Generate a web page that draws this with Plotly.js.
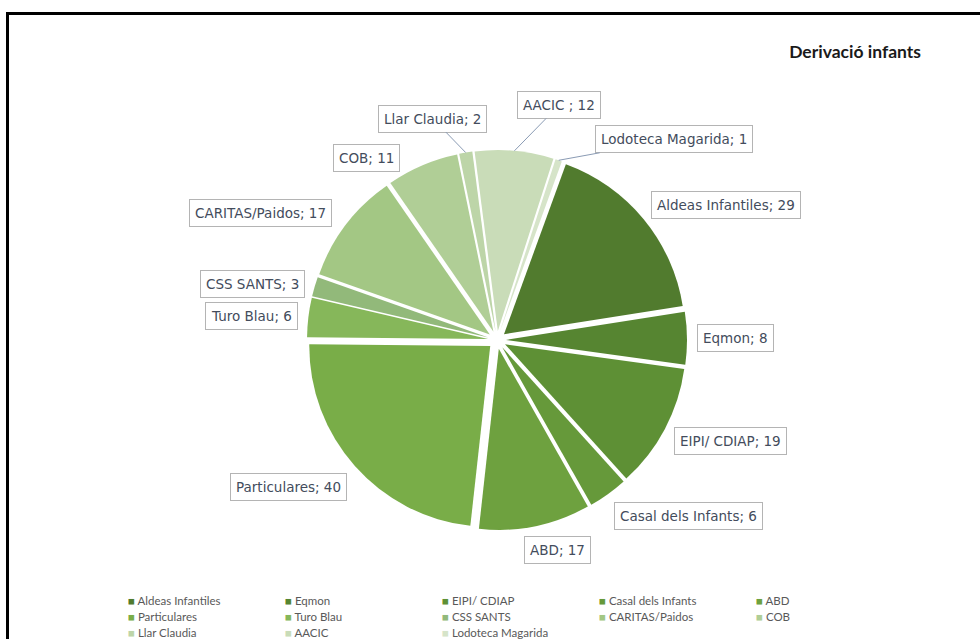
<!DOCTYPE html>
<html>
<head>
<meta charset="utf-8">
<script src="https://cdn.plot.ly/plotly-3.0.1.min.js"></script>
<style>
  html, body { margin: 0; padding: 0; background: #fff; }
  #chart { width: 980px; height: 639px; }
</style>
</head>
<body>
<div id="chart"></div>
<script>
// Derivació infants - number of children by referral source
const labels = ["Aldeas Infantiles", "Eqmon", "EIPI/ CDIAP", "Casal dels Infants", "ABD",
    "Particulares", "Turo Blau", "CSS SANTS", "CARITAS/Paidos", "COB",
    "Llar Claudia", "AACIC ", "Lodoteca Magarida"];
const counts = [29, 8, 19, 6, 17, 40, 6, 3, 17, 11, 2, 12, 1];
const sliceColors = ["#517b2e", "#568531", "#5e9035", "#66993a", "#6ea13f", "#79ad48",
    "#86b75a", "#92b97a", "#a3c784", "#b0ce96", "#bdd5a8", "#c9dcb8", "#d6e4c9"];

// page geometry (px)
const W = 980, H = 639;
const cx = 497, cy = 340, outerR = 190;
const pull = 0.05;
const startAngle = 20;

const px = x => x / W;
const py = y => 1 - y / H;

// labels that sit away from their slice with a leader line: [dx, dy] of the box
const leaderOffsets = {
    "Llar Claudia": [-33, -34],
    "AACIC ": [45, -46],
    "Lodoteca Magarida": [115, -21]
};
// small nudges for boxes Excel moved a bit
const nudges = { "COB": [-18, 16], "CARITAS/Paidos": [-6, 8], "ABD": [20, 0],
    "Aldeas Infantiles": [0, 6], "EIPI/ CDIAP": [0, -7] };

const total = counts.reduce((a, b) => a + b, 0);
let cum = 0;
const annotations = labels.map((lab, i) => {
    const mid = startAngle + (cum + counts[i] / 2) / total * 360;
    cum += counts[i];
    const rad = mid * Math.PI / 180;
    const s = Math.sin(rad), c = Math.cos(rad);
    const base = {
        xref: "paper", yref: "paper",
        text: `${lab}; ${counts[i]}`,
        font: { family: "DejaVu Sans", size: 13.5, color: "#434c5c" },
        bgcolor: "#ffffff",
        bordercolor: "#b4b4b4",
        borderwidth: 1,
        borderpad: 5
    };
    if (leaderOffsets[lab]) {
        const [dx, dy] = leaderOffsets[lab];
        return Object.assign(base, {
            x: px(cx + outerR * s), y: py(cy - outerR * c),
            showarrow: true, arrowhead: 0, arrowwidth: 1, arrowcolor: "#8a9bb4",
            standoff: 0, ax: dx, ay: dy
        });
    }
    const rho = 200;
    const [nx, ny] = nudges[lab] || [0, 0];
    return Object.assign(base, {
        x: px(cx + rho * s + nx), y: py(cy - rho * c + ny),
        xanchor: s > 0.3 ? "left" : (s < -0.3 ? "right" : "center"),
        yanchor: c > 0.3 ? "bottom" : (c < -0.3 ? "top" : "middle"),
        showarrow: false
    });
});

// legend in the Excel layout: 5 columns, rows filled left to right
const legendCols = 5, legendX0 = 127, legendDX = 157, legendY0 = 600, legendDY = 16;
labels.forEach((lab, i) => {
    const col = i % legendCols, row = Math.floor(i / legendCols);
    annotations.push({
        xref: "paper", yref: "paper",
        x: px(legendX0 + col * legendDX), y: py(legendY0 + row * legendDY),
        xanchor: "left", yanchor: "middle",
        showarrow: false,
        borderpad: 0,
        text: `<span style="color:${sliceColors[i]}">■</span> ${lab}`,
        font: { family: "Lato", size: 11.5, color: "#595959" }
    });
});

const trace = {
    type: "pie",
    labels: labels,
    values: counts,
    sort: false,
    direction: "clockwise",
    rotation: startAngle,
    pull: pull,
    marker: { colors: sliceColors, line: { color: "#ffffff", width: 0 } },
    textinfo: "none",
    hoverinfo: "label+value",
    domain: {
        x: [px(cx - outerR), px(cx + outerR)],
        y: [py(cy + outerR), py(cy - outerR)]
    }
};

const layout = {
    width: W,
    height: H,
    margin: { t: 0, b: 0, l: 0, r: 0 },
    paper_bgcolor: "#ffffff",
    font: { family: "Lato", color: "#404040" },
    title: {
        text: "<b>Derivació infants</b>",
        font: { family: "Lato", size: 17.5, color: "#1a1a1a" },
        x: px(921), xanchor: "right",
        y: py(52), yanchor: "middle"
    },
    showlegend: false,
    annotations: annotations,
    shapes: [
        // outer frame (only top and left edges show)
        { type: "line", xref: "paper", yref: "paper", x0: px(6), x1: 1.01, y0: py(13.5), y1: py(13.5),
          line: { color: "#000000", width: 3 } },
        { type: "line", xref: "paper", yref: "paper", x0: px(7.5), x1: px(7.5), y0: py(12), y1: -0.01,
          line: { color: "#000000", width: 3 } }
    ]
};

Plotly.newPlot("chart", [trace], layout, { displayModeBar: false });
</script>
</body>
</html>
